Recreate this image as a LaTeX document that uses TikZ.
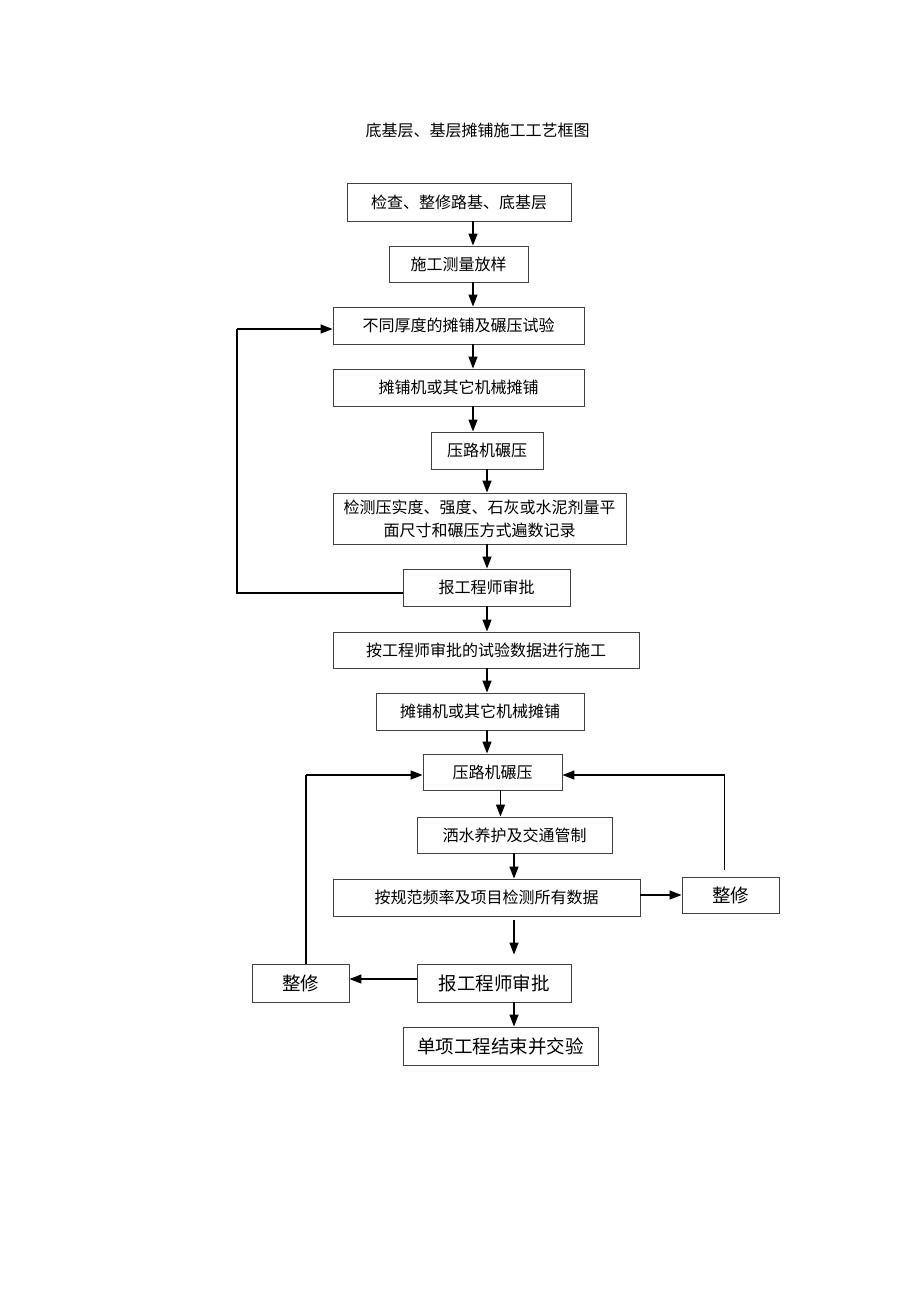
\documentclass[tikz,border=0pt]{standalone}
\usepackage{fontspec}
\setmainfont{Noto Sans CJK SC}
\usetikzlibrary{arrows.meta}
\tikzset{
  box/.style={draw=black!75, line width=0.9pt, inner sep=0pt, align=center,
    font=\fontsize{16}{23}\selectfont},
  bigbox/.style={box, font=\fontsize{18.5}{23}\selectfont},
  arr/.style={line width=1.4pt, -{Triangle[length=12pt,width=9pt]}},
  ttl/.style={inner sep=0pt, font=\fontsize{16}{20}\selectfont}
}
\begin{document}
\begin{tikzpicture}[x=1pt,y=-1pt]
\useasboundingbox (0,0) rectangle (920,1302);
\node[ttl] (title) at (477.5,130) {底基层、基层摊铺施工工艺框图};
\node[box, minimum width=224pt, minimum height=38pt] (b1) at (459,202) {检查、整修路基、底基层};
\node[box, minimum width=139pt, minimum height=36pt] (b2) at (458.5,264) {施工测量放样};
\node[box, minimum width=251pt, minimum height=37pt] (b3) at (458.5,325.5) {不同厚度的摊铺及碾压试验};
\node[box, minimum width=251pt, minimum height=37pt] (b4) at (458.5,387.5) {摊铺机或其它机械摊铺};
\node[box, minimum width=112pt, minimum height=37pt] (b5) at (487,450.5) {压路机碾压};
\node[box, minimum width=293pt, minimum height=51pt] (b6) at (479.5,518.5) {检测压实度、强度、石灰或水泥剂量平\\面尺寸和碾压方式遍数记录};
\node[box, minimum width=167pt, minimum height=37pt] (b7) at (486.5,587.5) {报工程师审批};
\node[box, minimum width=306pt, minimum height=36pt] (b8) at (486,650) {按工程师审批的试验数据进行施工};
\node[box, minimum width=208pt, minimum height=37pt] (b9) at (480,711.5) {摊铺机或其它机械摊铺};
\node[box, minimum width=139pt, minimum height=36pt] (b10) at (492.5,772) {压路机碾压};
\node[box, minimum width=195pt, minimum height=36pt] (b11) at (514.5,835) {洒水养护及交通管制};
\node[box, minimum width=307pt, minimum height=37pt] (b12) at (486.5,897.5) {按规范频率及项目检测所有数据};
\node[bigbox, minimum width=97pt, minimum height=36pt] (b13) at (730.5,895) {整修};
\node[bigbox, minimum width=154pt, minimum height=38pt] (b14) at (494,983) {报工程师审批};
\node[bigbox, minimum width=97pt, minimum height=38pt] (b15) at (300.5,983) {整修};
\node[bigbox, minimum width=195pt, minimum height=38pt] (b16) at (500.5,1046) {单项工程结束并交验};
% axis coordinates
\coordinate (xa) at (473,0);
\coordinate (xb) at (487,0);
\coordinate (xc) at (500.5,0);
\coordinate (xd) at (514,0);
% vertical arrows
\draw[arr] (b1.south -| xa) -- (b2.north -| xa);
\draw[arr] (b2.south -| xa) -- (b3.north -| xa);
\draw[arr] (b3.south -| xa) -- (b4.north -| xa);
\draw[arr] (b4.south -| xa) -- (b5.north -| xa);
\draw[arr] (b5.south -| xb) -- (b6.north -| xb);
\draw[arr] (b6.south -| xb) -- (b7.north -| xb);
\draw[arr] (b7.south -| xb) -- (b8.north -| xb);
\draw[arr] (b8.south -| xb) -- (b9.north -| xb);
\draw[arr] (b9.south -| xb) -- (b10.north -| xb);
\draw[arr] (b10.south -| xc) -- (b11.north -| xc);
\draw[arr] (b11.south -| xd) -- (b12.north -| xd);
\draw[arr, shorten <=4pt, shorten >=9pt] (b12.south -| xd) -- (b14.north -| xd);
\draw[arr] (b14.south -| xd) -- (b16.north -| xd);
% feedback loop from first approval
\coordinate (fbL) at (237,593);
\coordinate (fbT) at (237,329);
\draw[line width=1.4pt] (b7.west |- fbL) -- (fbL) -- (fbT);
\draw[arr] (fbT) -- (b3.west |- fbT);
% to right repair
\draw[arr] (b12.east |- b13.west) -- (b13.west);
\coordinate (rT) at (724.5,775);
\draw[line width=1.4pt] ([yshift=7pt]b13.north -| rT) -- (rT);
\draw[arr] (rT) -- (b10.east |- rT);
% to left repair
\coordinate (lY) at (0,979);
\draw[arr] (b14.west |- lY) -- (b15.east |- lY);
\coordinate (lT) at (306,775);
\draw[line width=1.4pt] (b15.north -| lT) -- (lT);
\draw[arr] (lT) -- (b10.west |- lT);
\end{tikzpicture}
\end{document}
